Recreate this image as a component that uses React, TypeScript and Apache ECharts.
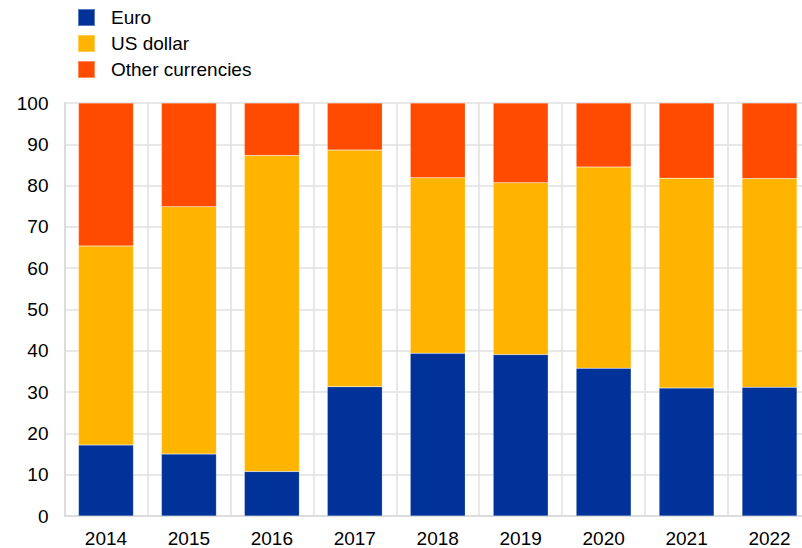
import React, { useEffect, useRef } from "react";
import * as echarts from "echarts";

const categories = ["2014", "2015", "2016", "2017", "2018", "2019", "2020", "2021", "2022"];
const euro = [17.2, 15.0, 10.8, 31.3, 39.4, 39.1, 35.8, 31.0, 31.2];
const usDollar = [48.2, 59.9, 76.5, 57.3, 42.5, 41.6, 48.7, 50.8, 50.5];
const otherCurrencies = [34.6, 25.1, 12.7, 11.4, 18.1, 19.3, 15.5, 18.2, 18.3];

export default function App() {
  const ref = useRef<HTMLDivElement>(null);
  useEffect(() => {
    if (!ref.current) return;
    const chart = echarts.init(ref.current, undefined, { renderer: "svg" });
    const font = "Arial, 'Liberation Sans', sans-serif";
    const mk = (name: string, data: number[], color: string) => ({
      name,
      type: "bar",
      stack: "total",
      data,
      barWidth: 55,
      itemStyle: { color, borderColor: "rgba(255,255,255,0.35)", borderWidth: 0.5 },
    });
    chart.setOption({
      animation: false,
      textStyle: { fontFamily: font },
      legend: {
        orient: "vertical",
        left: 72,
        top: 3,
        itemWidth: 17,
        itemHeight: 17,
        itemGap: 7,
        icon: "rect",
        textStyle: { fontSize: 19, color: "#000", fontFamily: font, padding: [0, 0, 0, 11] },
        data: ["Euro", "US dollar", "Other currencies"],
      },
      grid: { left: 64.5, right: 1, top: 103, bottom: 30.5 },
      xAxis: {
        type: "category",
        data: categories,
        axisLine: { show: true, lineStyle: { color: "#d9d9d9", width: 1.5 } },
        axisTick: { show: false },
        splitLine: { show: true, lineStyle: { color: "#e0e0e0", width: 1.5 } },
        axisLabel: { fontSize: 19, color: "#000", margin: 13, fontFamily: font },
      },
      yAxis: {
        type: "value",
        min: 0,
        max: 100,
        interval: 10,
        axisLine: { show: true, lineStyle: { color: "#d9d9d9", width: 1.5 } },
        axisTick: { show: false },
        splitLine: { show: true, lineStyle: { color: "#e0e0e0", width: 1.5 } },
        axisLabel: { fontSize: 19, color: "#000", margin: 16, fontFamily: font },
      },
      series: [
        mk("Euro", euro, "#003299"),
        mk("US dollar", usDollar, "#FFB400"),
        mk("Other currencies", otherCurrencies, "#FF4B00"),
      ],
    });
    return () => chart.dispose();
  }, []);
  return (
    <div style={{ position: "fixed", left: 0, top: 0, width: 802, height: 548, overflow: "hidden", background: "#fff" }}>
      <div ref={ref} style={{ width: 812, height: 548 }} />
    </div>
  );
}
